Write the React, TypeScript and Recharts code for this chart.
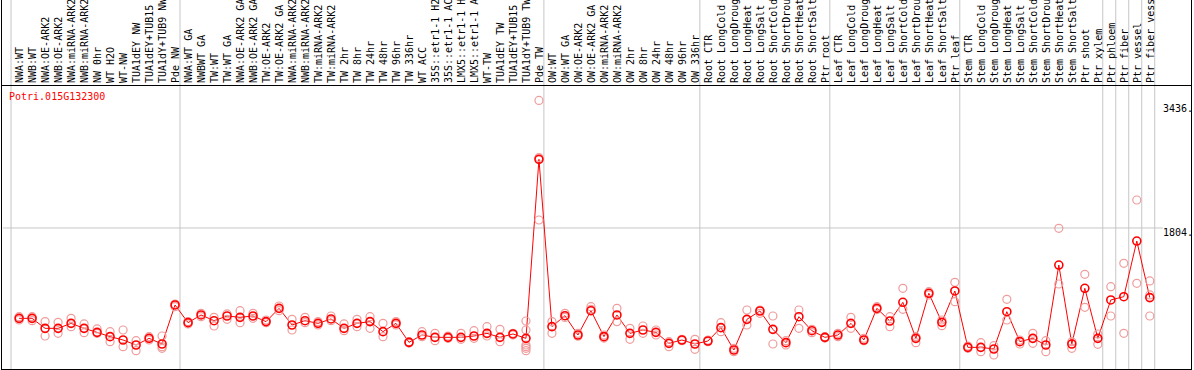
import { ComposedChart, Line, ReferenceLine, Scatter, XAxis, YAxis } from "recharts";

// sample labels, left to right (long ones get cut off by the top edge like in the original)
const CATEGORIES = [
  "NWA:WT", "NWB:WT", "NWA:OE-ARK2", "NWB:OE-ARK2", "NWA:miRNA-ARK2", "NWB:miRNA-ARK2",
  "NW 0hr", "WT H2O", "WT-NW", "TUA1dEY NW", "TUA1dEY+TUB15 NW", "TUA1dY+TUB9 NW", "Pde NW",
  "NWA:WT GA", "NWBWT GA", "TW:WT", "TW:WT GA", "NWA:OE-ARK2 GA", "NWB:OE-ARK2 GA",
  "TW:OE-ARK2", "TW:OE-ARK2 GA", "NWA:miRNA-ARK2 GA", "NWB:miRNA-ARK2 GA", "TW:miRNA-ARK2",
  "TW:miRNA-ARK2 GA", "TW 2hr", "TW 8hr", "TW 24hr", "TW 48hr", "TW 96hr", "TW 336hr",
  "WT ACC", "35S::etr1-1 H2O", "35S::etr1-1 ACC", "LMX5::etr1-1 H2O", "LMX5::etr1-1 ACC",
  "WT-TW", "TUA1dEY TW", "TUA1dEY+TUB15 TW", "TUA1dY+TUB9 TW", "Pde TW",
  "OW:WT", "OW:WT GA", "OW:OE-ARK2", "OW:OE-ARK2 GA", "OW:miRNA-ARK2", "OW:miRNA-ARK2 GA",
  "OW 2hr", "OW 8hr", "OW 24hr", "OW 48hr", "OW 96hr", "OW 336hr",
  "Root CTR", "Root LongCold", "Root LongDrought", "Root LongHeat", "Root LongSalt",
  "Root ShortCold", "Root ShortDrought", "Root ShortHeat", "Root ShortSalt", "Ptr root",
  "Leaf CTR", "Leaf LongCold", "Leaf LongDrought", "Leaf LongHeat", "Leaf LongSalt",
  "Leaf ShortCold", "Leaf ShortDrought", "Leaf ShortHeat", "Leaf ShortSalt", "Ptr leaf",
  "Stem CTR", "Stem LongCold", "Stem LongDrought", "Stem LongHeat", "Stem LongSalt",
  "Stem ShortCold", "Stem ShortDrought", "Stem ShortHeat", "Stem ShortSalt", "Ptr shoot",
  "Ptr xylem", "Ptr phloem", "Ptr fiber", "Ptr vessel", "Ptr fiber vessel",
];

// mean expression per sample
const MEANS = [
  648, 648, 520, 520, 584, 520, 469, 414, 371, 307, 392, 320, 819,
  593, 691, 618, 678, 661, 678, 606, 776, 563, 618, 584, 640, 520, 584, 606, 478, 584,
  341, 435, 405, 405, 405, 422, 456, 405, 448, 392, 2682,
  542, 682, 435, 746, 414, 691, 456, 499, 469, 328, 371, 320,
  358, 529, 243, 635, 742, 507, 337, 669, 490, 405,
  435, 584, 371, 776, 614, 853, 392, 968, 597, 998,
  277, 277, 256, 733, 350, 392, 307, 1330, 320, 1032, 392,
  883, 925, 1637, 913,
];

// individual replicates per sample
const REPLICATES = [
  [669, 627], [669, 618], [606, 422], [597, 456], [648, 542], [576, 465], [512, 456],
  [478, 350], [499, 286], [362, 235], [414, 371], [422, 286, 264], [831, 797],
  [606, 576], [712, 669], [661, 550], [704, 635], [746, 593], [712, 648], [627, 593],
  [806, 746], [635, 499], [661, 593], [606, 563], [678, 618], [576, 490], [635, 542],
  [669, 520], [584, 414], [606, 563], [350, 332], [478, 414], [456, 362], [422, 392],
  [456, 380], [490, 392], [542, 422], [508, 350], [456, 435],
  [614, 499, 307, 286, 264, 235], [3436, 1906, 2705],
  [606, 456], [712, 660], [456, 420], [797, 763], [435, 395], [776, 606], [520, 380],
  [550, 456], [499, 435], [350, 286], [380, 362], [380, 252],
  [371, 350], [593, 478], [264, 222], [755, 563], [755, 712], [678, 320], [362, 307],
  [755, 520], [508, 465], [414, 395],
  [456, 414], [661, 520], [392, 360], [797, 760], [669, 542], [1032, 763], [414, 337],
  [989, 947], [627, 554], [1109, 861],
  [294, 264], [337, 222], [298, 179], [891, 627], [371, 320], [456, 328], [362, 222],
  [1799, 1087], [350, 264], [1211, 789], [448, 316],
  [1053, 678], [1352, 456], [2162, 1096], [1126, 678, 947],
];

// indices where a new sample group starts (vertical separators)
const GROUP_BREAKS = [0, 13, 41, 53, 63, 73, 84, 85, 86, 87, 88];
const Y_TICKS = [0, 1804, 3436];
const GENE_ID = "Potri.015G132300";

const RED = "#ff0000";
const REP_COLOR = "#ef9c9c";
const GRID = "#c6c6c6";
const FONT = '"DejaVu Sans Mono", monospace';

const Y_MAX = 3620;
const Y_TOP_EDGE = 4720; // value that sits at the top edge of the picture

const lineData = CATEGORIES.map((name, i) => ({ pos: i + 0.5, name, mean: MEANS[i] }));
const repData = REPLICATES.flatMap((vals, i) => vals.map((v) => ({ pos: i + 0.5, rep: v })));
const yMaxTick = Y_TICKS[Y_TICKS.length - 1];

function CategoryTick({ x, payload }: any) {
  const label = CATEGORIES[Math.floor(payload.value)];
  return (
    <text
      transform={`translate(${x + 4},83) rotate(-90)`}
      fontFamily={FONT}
      fontSize={10}
      fill="#000"
    >
      {label}
    </text>
  );
}

function ValueTick({ x, y, payload }: any) {
  const v = payload.value;
  const dy = v === 0 ? -3 : v === yMaxTick ? 12 : 8;
  return (
    <text x={x} y={y + dy} fontFamily={FONT} fontSize={10} fill="#000" textAnchor="start">
      {v === 0 ? "0" : `${v}.`}
    </text>
  );
}

export default function App() {
  return (
    <div style={{ position: "absolute", left: 0, top: 0, width: 1194, height: 370, background: "#fff" }}>
      <ComposedChart
        width={1194}
        height={370}
        data={lineData}
        margin={{ top: 0, right: 0, bottom: 1, left: 10 }}
      >
        <XAxis
          xAxisId={0}
          orientation="top"
          type="number"
          dataKey="pos"
          domain={[-0.2, 87.9]}
          allowDataOverflow
          ticks={lineData.map((d) => d.pos)}
          interval={0}
          height={86}
          axisLine={false}
          tickLine={false}
          tick={<CategoryTick />}
        />
        <YAxis
          orientation="right"
          type="number"
          domain={[0, Y_MAX]}
          allowDataOverflow
          ticks={Y_TICKS}
          width={39}
          axisLine={false}
          tickLine={false}
          tick={<ValueTick />}
        />
        {GROUP_BREAKS.map((b) => (
          <ReferenceLine
            key={`v${b}`}
            segment={[
              { x: b - 0.12, y: 0 },
              { x: b - 0.12, y: Y_TOP_EDGE },
            ]}
            stroke={GRID}
            strokeWidth={1}
            ifOverflow="visible"
          />
        ))}
        {Y_TICKS.filter((t) => t > 0 && t < yMaxTick).map((t) => (
          <ReferenceLine
            key={`h${t}`}
            segment={[
              { x: -0.75, y: t },
              { x: 88.5, y: t },
            ]}
            stroke={GRID}
            strokeWidth={1}
            ifOverflow="visible"
          />
        ))}
        <Scatter
          data={repData}
          dataKey="rep"
          isAnimationActive={false}
          shape={(p: any) => (
            <circle cx={p.cx} cy={p.cy} r={4} fill="none" stroke={REP_COLOR} strokeWidth={1.2} />
          )}
        />
        <Line
          type="linear"
          dataKey="mean"
          stroke={RED}
          strokeWidth={1}
          isAnimationActive={false}
          activeDot={false}
          dot={(p: any) => (
            <circle
              key={`d${p.index}`}
              cx={p.cx}
              cy={p.cy}
              r={4}
              fill="none"
              stroke={RED}
              strokeWidth={1.6}
            />
          )}
        />
      </ComposedChart>
      <div
        style={{
          position: "absolute",
          left: 9,
          top: 92,
          fontFamily: FONT,
          fontSize: 10,
          lineHeight: "10px",
          color: RED,
          whiteSpace: "nowrap",
        }}
      >
        {GENE_ID}
      </div>
      {/* frame */}
      <div
        style={{
          position: "absolute",
          left: 1,
          top: 0,
          width: 1189,
          height: 369,
          borderLeft: "1px solid #000",
          borderRight: "1px solid #000",
          borderBottom: "1px solid #000",
          pointerEvents: "none",
        }}
      />
      <div
        style={{
          position: "absolute",
          left: 1,
          top: 85,
          width: 1191,
          height: 1,
          background: "#000",
          pointerEvents: "none",
        }}
      />
    </div>
  );
}
